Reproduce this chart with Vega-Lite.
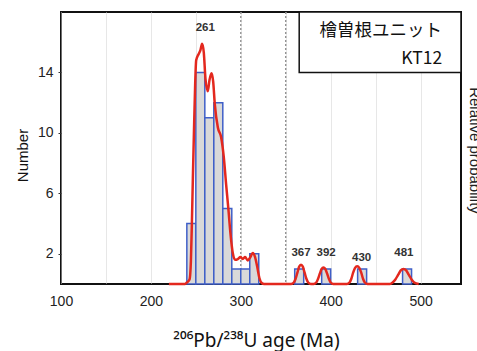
{
  "$schema": "https://vega.github.io/schema/vega-lite/v6.json",
  "width": 400,
  "height": 272,
  "autosize": {"type": "none"},
  "padding": {"left": 61, "top": 12, "right": 16, "bottom": 67},
  "background": "white",
  "config": {
    "view": {"stroke": "#111111", "strokeWidth": 2},
    "font": "Liberation Sans",
    "axis": {"domain": false, "labelFont": "Liberation Sans", "titleFont": "Liberation Sans"}
  },
  "datasets": {
    "bins": [
      {"start": 240, "end": 250, "count": 4},
      {"start": 250, "end": 260, "count": 14},
      {"start": 260, "end": 270, "count": 11},
      {"start": 270, "end": 280, "count": 12},
      {"start": 280, "end": 290, "count": 5},
      {"start": 290, "end": 300, "count": 1},
      {"start": 300, "end": 310, "count": 1},
      {"start": 310, "end": 320, "count": 2},
      {"start": 360, "end": 370, "count": 1},
      {"start": 390, "end": 400, "count": 1},
      {"start": 430, "end": 440, "count": 1},
      {"start": 480, "end": 490, "count": 1}
    ],
    "density": [
      {"age": 220, "p": 0}, {"age": 238, "p": 0}, {"age": 240, "p": 0.1}, {"age": 243, "p": 0.3},
      {"age": 244.5, "p": 1.5}, {"age": 245.6, "p": 4.0}, {"age": 246.7, "p": 7.0}, {"age": 247.8, "p": 9.8},
      {"age": 249.3, "p": 13.3}, {"age": 250.4, "p": 14.8}, {"age": 253, "p": 15.2}, {"age": 255.2, "p": 15.5},
      {"age": 257, "p": 15.9}, {"age": 258.9, "p": 15.3}, {"age": 260.7, "p": 13.6}, {"age": 263.3, "p": 12.75},
      {"age": 265.2, "p": 13.5}, {"age": 267.4, "p": 13.95}, {"age": 269.3, "p": 13.4}, {"age": 271.1, "p": 11.9},
      {"age": 274.5, "p": 10.35}, {"age": 278.2, "p": 9.7}, {"age": 281.1, "p": 8.4}, {"age": 283.7, "p": 6.6},
      {"age": 286.3, "p": 4.9}, {"age": 288.5, "p": 3.35}, {"age": 291.1, "p": 2.05}, {"age": 293.7, "p": 1.6},
      {"age": 296.7, "p": 1.65}, {"age": 299.6, "p": 1.78}, {"age": 302.2, "p": 1.65}, {"age": 304.8, "p": 1.78},
      {"age": 307.8, "p": 1.56}, {"age": 310.7, "p": 1.78}, {"age": 313.3, "p": 2.05}, {"age": 315.9, "p": 1.78},
      {"age": 318.2, "p": 1.17}, {"age": 320.7, "p": 0.4}, {"age": 323.3, "p": 0.07}, {"age": 326, "p": 0},
      {"age": 356, "p": 0}, {"age": 359, "p": 0.1}, {"age": 361, "p": 0.35}, {"age": 363, "p": 0.75},
      {"age": 365, "p": 1.15}, {"age": 367, "p": 1.28}, {"age": 369, "p": 1.15}, {"age": 371, "p": 0.75},
      {"age": 373, "p": 0.35}, {"age": 375, "p": 0.1}, {"age": 378, "p": 0},
      {"age": 381, "p": 0}, {"age": 384, "p": 0.1}, {"age": 386, "p": 0.35}, {"age": 388, "p": 0.7},
      {"age": 390, "p": 1.0}, {"age": 392, "p": 1.1}, {"age": 394, "p": 1.0}, {"age": 396, "p": 0.7},
      {"age": 398, "p": 0.35}, {"age": 400, "p": 0.1}, {"age": 403, "p": 0},
      {"age": 418, "p": 0}, {"age": 421, "p": 0.1}, {"age": 423, "p": 0.35}, {"age": 425, "p": 0.75},
      {"age": 427, "p": 1.05}, {"age": 429.5, "p": 1.17}, {"age": 432, "p": 1.05}, {"age": 434, "p": 0.75},
      {"age": 436, "p": 0.35}, {"age": 438, "p": 0.1}, {"age": 441, "p": 0},
      {"age": 466, "p": 0}, {"age": 469, "p": 0.1}, {"age": 472, "p": 0.3}, {"age": 475, "p": 0.6},
      {"age": 478, "p": 0.9}, {"age": 481, "p": 1.0}, {"age": 484, "p": 0.9}, {"age": 487, "p": 0.6},
      {"age": 490, "p": 0.3}, {"age": 493, "p": 0.1}, {"age": 498, "p": 0}
    ],
    "peaks": [
      {"label": "261", "age": 260.5, "y": 16.95},
      {"label": "367", "age": 367, "y": 2.06},
      {"label": "392", "age": 395, "y": 2.06},
      {"label": "430", "age": 434.5, "y": 1.73},
      {"label": "481", "age": 481.5, "y": 2.06}
    ],
    "markers": [{"age": 300}, {"age": 350}]
  },
  "layer": [
    {
      "layer": [
        {
          "data": {"name": "bins"},
          "mark": {"type": "rect", "fill": "#d9d9d9", "stroke": "#3f5fc8", "strokeWidth": 1.5, "opacity": 0},
          "encoding": {
            "x": {
              "field": "start", "type": "quantitative",
              "scale": {"domain": [100, 545], "nice": false, "zero": false},
              "axis": {
                "values": [100, 150, 200, 250, 300, 350, 400, 450, 500],
                "labelExpr": "datum.value % 100 === 0 ? datum.label : ''",
                "labelOverlap": false, "labelFlush": false, "labelDx": 3,
                "ticks": false,
                "grid": true, "gridColor": "#cfcfcf", "gridDash": [1, 1], "gridWidth": 1,
                "labelFontSize": 14, "labelColor": "#222222", "labelPadding": 10,
                "title": "²⁰⁶Pb/²³⁸U age (Ma)", "titleFont": "Noto Sans", "titleFontSize": 19, "titleFontWeight": "normal",
                "titleColor": "#111111", "titleBaseline": "alphabetic", "titleY": 62, "titleX": 195
              }
            },
            "x2": {"field": "end"},
            "y": {
              "field": "count", "type": "quantitative",
              "scale": {"domain": [0, 18], "nice": false},
              "axis": {
                "orient": "left",
                "values": [2, 6, 10, 14],
                "grid": false, "ticks": true, "tickSize": 3, "tickColor": "#333333",
                "labelFontSize": 14, "labelColor": "#222222", "labelPadding": 5,
                "title": "Number", "titleFontSize": 15, "titleFontWeight": "normal", "titleColor": "#111111",
                "titleX": -31, "titleY": 143
              }
            },
            "y2": {"datum": 0}
          }
        },
        {
          "data": {"name": "markers"},
          "mark": {"type": "rule", "color": "#8c8c8c", "strokeDash": [2, 2], "strokeWidth": 1.3},
          "encoding": {
            "x": {"field": "age", "type": "quantitative"}
          }
        },
        {
          "data": {"name": "bins"},
          "mark": {"type": "rect", "fill": "#d9d9d9", "stroke": "#3f5fc8", "strokeWidth": 1.5},
          "encoding": {
            "x": {"field": "start", "type": "quantitative"},
            "x2": {"field": "end"},
            "y": {"field": "count", "type": "quantitative"},
            "y2": {"datum": 0}
          }
        },
        {
          "data": {"values": [{}]},
          "mark": {"type": "rect", "fill": "white", "stroke": "#111111", "strokeWidth": 1.5},
          "encoding": {
            "x": {"datum": 365},
            "x2": {"datum": 545},
            "y": {"datum": 14},
            "y2": {"datum": 18}
          }
        },
        {
          "data": {"values": [{}]},
          "mark": {"type": "text", "text": "檜曽根ユニット", "align": "right", "baseline": "alphabetic", "font": "Noto Sans CJK JP", "fontSize": 17.5, "color": "#111111"},
          "encoding": {"x": {"datum": 524}, "y": {"datum": 16.4}}
        },
        {
          "data": {"values": [{}]},
          "mark": {"type": "text", "text": "KT12", "align": "right", "baseline": "alphabetic", "font": "Noto Sans CJK JP", "fontSize": 17.5, "color": "#111111"},
          "encoding": {"x": {"datum": 524}, "y": {"datum": 14.55}}
        },
        {
          "data": {"name": "peaks"},
          "mark": {"type": "text", "fontWeight": "bold", "fontSize": 11.5, "color": "#333333", "baseline": "middle"},
          "encoding": {
            "x": {"field": "age", "type": "quantitative"},
            "y": {"field": "y", "type": "quantitative"},
            "text": {"field": "label"}
          }
        }
      ]
    },
    {
      "data": {"name": "density"},
      "mark": {"type": "line", "color": "#e3281e", "strokeWidth": 2.5, "interpolate": "monotone"},
      "encoding": {
        "x": {"field": "age", "type": "quantitative"},
        "y": {
          "field": "p", "type": "quantitative",
          "scale": {"domain": [0, 18], "nice": false},
          "axis": {
            "orient": "right", "labels": false, "ticks": false, "grid": false,
            "title": "Relative probability", "titleFontSize": 15, "titleFontWeight": "normal",
            "titleColor": "#222222", "titleBaseline": "alphabetic", "titleX": 8, "titleY": 138, "titleAngle": 90
          }
        }
      }
    }
  ],
  "resolve": {"scale": {"y": "independent"}}
}
